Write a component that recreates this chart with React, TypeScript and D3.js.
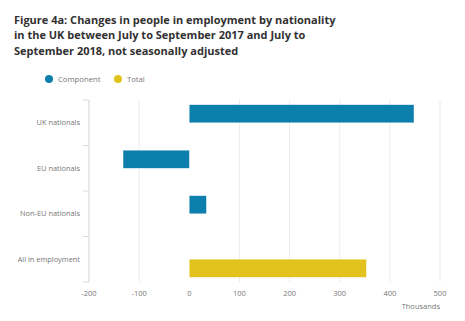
import React from "react";
import * as d3 from "d3";

const categories = ["UK nationals", "EU nationals", "Non-EU nationals", "All in employment"];
const seriesNames = ["Component", "Total"];
const componentValues = [448, -132, 34, null];
const totalValues = [null, null, null, 353];
const xTicks = [-200, -100, 0, 100, 200, 300, 400, 500];
const titleLines = [
  "Figure 4a: Changes in people in employment by nationality",
  "in the UK between July to September 2017 and July to",
  "September 2018, not seasonally adjusted",
];
const colors = ["#0c7fac", "#e2c31e"];

export default function App() {
  const W = 465, H = 321;
  const left = 89, right = 440, top = 100, bottom = 282;
  const x = d3.scaleLinear().domain([-200, 500]).range([left, right]);
  const y = d3.scaleBand<string>().domain(categories).range([top, bottom]).paddingInner(0).paddingOuter(0);
  const sub = d3.scaleBand<string>().domain(seriesNames).range([0, y.bandwidth()]).paddingInner(0).paddingOuter(0.264);
  const series = [componentValues, totalValues];
  const font = "'Open Sans', sans-serif";
  const bandEdges = [...categories.map((c) => y(c) as number), bottom];

  return (
    <svg width={W} height={H} style={{ position: "absolute", left: 0, top: 0, background: "#fff" }}>
      <g fontFamily={font}>
        {titleLines.map((t, i) => (
          <text key={i} x={14} y={23.5 + i * 15.5} fontSize={11} fontWeight={700} fill="#323132">{t}</text>
        ))}
        {seriesNames.map((s, i) => (
          <g key={s} transform={`translate(${49 + i * 69},79)`}>
            <circle r={4} fill={colors[i]} />
            <text x={9} y={2.8} fontSize={7.7} fill="#777">{s}</text>
          </g>
        ))}
        {xTicks.map((t) => (
          <g key={t}>
            {t !== 0 && <line x1={x(t)} x2={x(t)} y1={top} y2={bottom} stroke="#ebebeb" strokeWidth={1} />}
            <text x={x(t)} y={295.5} fontSize={7.5} fill="#777" textAnchor="middle">{t}</text>
          </g>
        ))}
        <line x1={left} x2={left} y1={top} y2={bottom} stroke="#dcdcdc" />
        {bandEdges.map((e, i) => (
          <line key={i} x1={left - 6} x2={left} y1={e} y2={e} stroke="#dcdcdc" />
        ))}
        {categories.map((c) => (
          <text key={c} x={80} y={(y(c) as number) + y.bandwidth() / 2 + 2.7} fontSize={7.4} fill="#777" textAnchor="end">{c}</text>
        ))}
        {series.map((vals, si) =>
          vals.map((v, ci) =>
            v == null ? null : (
              <rect
                key={`${si}-${ci}`}
                x={Math.min(x(0), x(v))}
                width={Math.abs(x(v) - x(0))}
                y={(y(categories[ci]) as number) + (sub(seriesNames[si]) as number)}
                height={sub.bandwidth()}
                fill={colors[si]}
                stroke="#ffffff"
                strokeOpacity={0.5}
                strokeWidth={0.5}
              />
            )
          )
        )}
        <text x={440} y={308.5} fontSize={7.5} fill="#777" textAnchor="end">Thousands</text>
      </g>
    </svg>
  );
}
